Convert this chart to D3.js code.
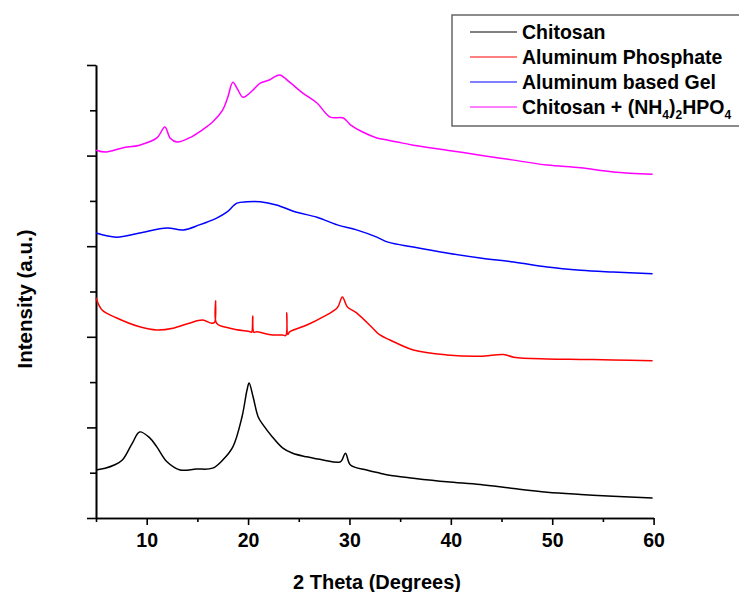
<!DOCTYPE html>
<html>
<head>
<meta charset="utf-8">
<script src="https://cdn.jsdelivr.net/npm/d3@7"></script>
<style>
  body { margin: 0; background: #fff; }
  svg { display: block; }
  text { font-family: "Liberation Sans", Arial, Helvetica, sans-serif; font-weight: bold; fill: #000; }
  .axis path, .axis line { stroke: #000; stroke-width: 1.6; }
  .axis text { font-size: 19.5px; }
</style>
</head>
<body>
<div id="chart"></div>
<script>
// series names, legend order
var seriesNames = ["Chitosan", "Aluminum Phosphate", "Aluminum based Gel", "Chitosan + (NH4)2HPO4"];

// values (2 theta in degrees, intensity in a.u.)
var chitosanTheta = [5.0, 5.9, 6.8, 7.6, 8.6, 9.3, 10.3, 11.0, 12.0, 13.3, 14.9, 16.5, 17.5, 18.5, 19.4, 19.9, 20.1, 20.5, 21.0, 21.5, 22.4, 23.4, 24.4, 25.8, 27.4, 29.1, 29.6, 30.1, 31.7, 33.0, 33.8, 36.3, 39.6, 42.9, 46.2, 49.5, 52.8, 56.0, 59.9];
var chitosanValues = [1.06, 1.10, 1.17, 1.28, 1.66, 1.90, 1.77, 1.57, 1.24, 1.06, 1.08, 1.10, 1.28, 1.57, 2.23, 2.83, 2.98, 2.67, 2.23, 2.05, 1.79, 1.55, 1.43, 1.35, 1.28, 1.24, 1.43, 1.17, 1.06, 0.99, 0.95, 0.88, 0.80, 0.74, 0.65, 0.57, 0.52, 0.48, 0.44];

var phosphateTheta = [5.0, 5.6, 7.0, 9.3, 11.0, 12.6, 14.2, 15.5, 16.4, 16.7, 16.8, 16.9, 18.2, 20.2, 20.35, 20.46, 20.56, 20.8, 22.4, 23.4, 23.72, 23.82, 23.92, 24.1, 25.8, 27.4, 28.8, 29.3, 29.8, 30.7, 32.3, 33.0, 34.0, 36.3, 39.6, 42.9, 45.2, 46.2, 49.5, 52.8, 56.0, 59.9];
var phosphateValues = [4.86, 4.59, 4.42, 4.22, 4.15, 4.19, 4.30, 4.37, 4.30, 4.32, 4.79, 4.30, 4.19, 4.11, 4.10, 4.46, 4.10, 4.11, 4.04, 4.04, 4.03, 4.53, 4.05, 4.11, 4.26, 4.44, 4.64, 4.88, 4.66, 4.53, 4.19, 4.04, 3.93, 3.71, 3.60, 3.57, 3.61, 3.55, 3.51, 3.50, 3.49, 3.47];

var gelTheta = [5.0, 7.0, 9.3, 12.0, 13.6, 15.2, 16.9, 17.9, 18.9, 19.9, 21.2, 22.8, 24.8, 26.8, 28.8, 30.7, 32.7, 33.8, 36.3, 39.6, 42.9, 46.2, 49.5, 52.8, 56.0, 59.9];
var gelValues = [6.29, 6.20, 6.29, 6.40, 6.36, 6.47, 6.62, 6.75, 6.95, 6.98, 6.98, 6.91, 6.75, 6.64, 6.47, 6.36, 6.20, 6.09, 5.98, 5.85, 5.74, 5.65, 5.54, 5.47, 5.43, 5.39];

var mixTheta = [5.0, 6.0, 7.6, 9.3, 11.0, 11.8, 12.3, 13.0, 14.2, 15.5, 16.5, 17.5, 18.0, 18.5, 19.0, 19.5, 20.5, 21.2, 22.1, 23.1, 24.1, 25.4, 26.8, 28.1, 29.4, 30.1, 31.3, 32.7, 33.8, 34.7, 36.3, 39.6, 42.9, 46.2, 49.5, 52.8, 56.0, 59.9];
var mixValues = [8.12, 8.08, 8.17, 8.23, 8.39, 8.63, 8.39, 8.30, 8.39, 8.57, 8.74, 9.01, 9.29, 9.62, 9.45, 9.29, 9.45, 9.60, 9.67, 9.78, 9.62, 9.38, 9.16, 8.85, 8.83, 8.68, 8.52, 8.39, 8.34, 8.30, 8.23, 8.12, 8.01, 7.90, 7.79, 7.73, 7.64, 7.59];

var xMajorTicks = [10, 20, 30, 40, 50, 60];
var xMinorTicks = [5, 15, 25, 35, 45, 55];
var yMajorTicks = [0, 2, 4, 6, 8, 10];
var yMinorTicks = [1, 3, 5, 7, 9];

var xTitle = "2 Theta (Degrees)";
var yTitle = "Intensity (a.u.)";

var colors = ["#000000", "#ff0000", "#0000ff", "#ff00ff"];

var width = 739, height = 592;
var margins = { top: 65, right: 86, bottom: 74, left: 96 };
var chartWidth = width - margins.left - margins.right;
var chartHeight = height - margins.top - margins.bottom;

var series = [
  { name: seriesNames[0], theta: chitosanTheta, values: chitosanValues },
  { name: seriesNames[1], theta: phosphateTheta, values: phosphateValues },
  { name: seriesNames[2], theta: gelTheta, values: gelValues },
  { name: seriesNames[3], theta: mixTheta, values: mixValues }
];

var svg = d3.select("#chart")
  .append("svg")
  .attr("width", width)
  .attr("height", height);

var chartElement = svg.append("g")
  .attr("transform", `translate(${margins.left},${margins.top})`);

var xScale = d3.scaleLinear().domain([5, 60]).range([0, chartWidth + 0.6]);
var yScale = d3.scaleLinear().domain([0, 10]).range([chartHeight, 0]);

// axes: minor ticks first, then major ones with labels
chartElement.append("g")
  .attr("class", "x axis")
  .attr("transform", `translate(0,${chartHeight})`)
  .call(d3.axisBottom(xScale).tickValues(xMinorTicks).tickSize(4).tickSizeOuter(0).tickFormat(""));

chartElement.append("g")
  .attr("class", "x axis")
  .attr("transform", `translate(0,${chartHeight})`)
  .call(d3.axisBottom(xScale).tickValues(xMajorTicks).tickSize(7).tickSizeOuter(0).tickPadding(8).tickFormat(d3.format("d")));

chartElement.append("g")
  .attr("class", "y axis")
  .call(d3.axisLeft(yScale).tickValues(yMinorTicks).tickSize(6).tickSizeOuter(0).tickFormat(""));

chartElement.append("g")
  .attr("class", "y axis")
  .call(d3.axisLeft(yScale).tickValues(yMajorTicks).tickSize(9).tickSizeOuter(0).tickFormat(""));

// lines
var line = d3.line()
  .curve(d3.curveCatmullRom.alpha(0.5))
  .x(d => xScale(d[0]))
  .y(d => yScale(d[1]));

chartElement.append("g")
  .attr("class", "lines")
  .selectAll("path")
  .data(series)
  .enter()
  .append("path")
  .attr("fill", "none")
  .attr("stroke", (d, i) => colors[i])
  .attr("stroke-width", 1.5)
  .attr("stroke-linejoin", "round")
  .attr("d", d => line(d.theta.map((t, i) => [t, d.values[i]])));

// axis titles
svg.append("text")
  .attr("x", 377)
  .attr("y", 589)
  .attr("text-anchor", "middle")
  .style("font-size", "20px")
  .text(xTitle);

svg.append("text")
  .attr("transform", "translate(32,299) rotate(-90)")
  .attr("text-anchor", "middle")
  .style("font-size", "20.5px")
  .text(yTitle);

// legend
var legend = svg.append("g").attr("class", "legend");

legend.append("rect")
  .attr("x", 452)
  .attr("y", 15)
  .attr("width", 300)
  .attr("height", 111)
  .attr("fill", "#fff")
  .attr("stroke", "#666")
  .attr("stroke-width", 1.5);

var rows = legend.selectAll("g.row")
  .data(series)
  .enter()
  .append("g")
  .attr("class", "row")
  .attr("transform", (d, i) => `translate(0,${32 + i * 25})`);

rows.append("line")
  .attr("x1", 470)
  .attr("x2", 517)
  .attr("stroke", (d, i) => colors[i])
  .attr("stroke-width", 1);

rows.each(function(d, i) {
  var t = d3.select(this).append("text")
    .attr("x", 522)
    .attr("y", 6.5)
    .style("font-size", "19.5px");
  if (i < 3) {
    t.text(d.name);
  } else {
    // chemical formula with subscripts
    t.append("tspan").text("Chitosan + (NH");
    t.append("tspan").attr("dy", 5).style("font-size", "12px").text("4");
    t.append("tspan").attr("dy", -5).text(")");
    t.append("tspan").attr("dy", 5).style("font-size", "12px").text("2");
    t.append("tspan").attr("dy", -5).text("HPO");
    t.append("tspan").attr("dy", 5).style("font-size", "12px").text("4");
  }
});
</script>
</body>
</html>
